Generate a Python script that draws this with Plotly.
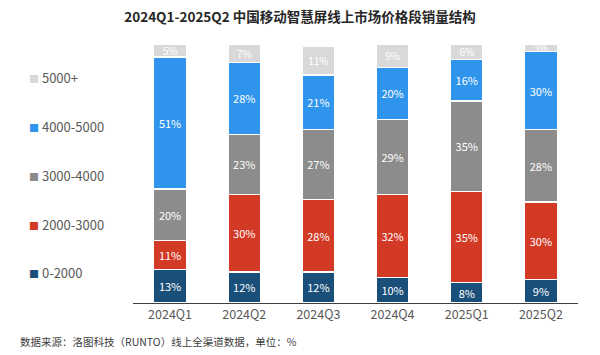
import plotly.graph_objects as go

quarters = ["2024Q1", "2024Q2", "2024Q3", "2024Q4", "2025Q1", "2025Q2"]
seg_names = ["0-2000", "2000-3000", "3000-4000", "4000-5000", "5000+"]
v_0_2000 = [13, 12, 12, 10, 8, 9]
v_2000_3000 = [11, 30, 28, 32, 35, 30]
v_3000_4000 = [20, 23, 27, 29, 35, 28]
v_4000_5000 = [51, 28, 21, 20, 16, 30]
v_5000p = [5, 7, 11, 9, 6, 3]
series = [v_0_2000, v_2000_3000, v_3000_4000, v_4000_5000, v_5000p]
colors = ["#1a4f7a", "#d33a26", "#8c8c8c", "#2f95ec", "#d9d9d9"]
text_sizes = [11, 11, 11, 11, 10]
legend_y = [0.116, 0.305, 0.494, 0.680, 0.869]

FONT = "Noto Sans CJK SC"

fig = go.Figure()
for name, vals, col, ts in zip(seg_names, series, colors, text_sizes):
    fig.add_trace(go.Bar(
        x=quarters, y=vals, name=name,
        marker=dict(color=col, line=dict(color="white", width=1.2)),
        text=[f"{v}%" for v in vals], textposition="inside",
        insidetextanchor="middle", textangle=0, constraintext="none",
        textfont=dict(color="white", size=ts, family=FONT),
        showlegend=False,
    ))

annotations = []
for name, col, ly in zip(seg_names, colors, legend_y):
    annotations.append(dict(
        xref="paper", yref="paper", x=-0.238, y=ly, xanchor="left", yanchor="middle",
        text=f"<span style='color:{col};font-size:10px'>■</span> {name}", showarrow=False,
        font=dict(size=13, color="#595959", family=FONT),
    ))
annotations.append(dict(
    xref="paper", yref="paper", x=(18 - 133) / 444, y=(303 - 341) / 259,
    xanchor="left", yanchor="middle", showarrow=False,
    text="数据来源：洛图科技（RUNTO）线上全渠道数据，单位：%",
    font=dict(size=10.5, color="#404040", family=FONT),
))

fig.update_layout(
    barmode="stack", bargap=0.56,
    width=600, height=355,
    margin=dict(l=133, r=22, t=44, b=52),
    paper_bgcolor="white", plot_bgcolor="white",
    title=dict(text="<b>2024Q1-2025Q2 中国移动智慧屏线上市场价格段销量结构</b>",
               x=0.5, xanchor="center", y=0.95, yanchor="middle",
               font=dict(size=13.5, color="#262626", family=FONT)),
    annotations=annotations,
    font=dict(family=FONT),
)
fig.update_xaxes(showline=True, linecolor="#404040", linewidth=1, ticks="",
                 tickfont=dict(size=12.5, color="#595959", family=FONT))
fig.update_yaxes(range=[0, 100], visible=False, showgrid=False)

fig.write_html("out.html", config={"displayModeBar": False},
               post_script="document.body.style.margin='0';document.body.style.padding='0';")
